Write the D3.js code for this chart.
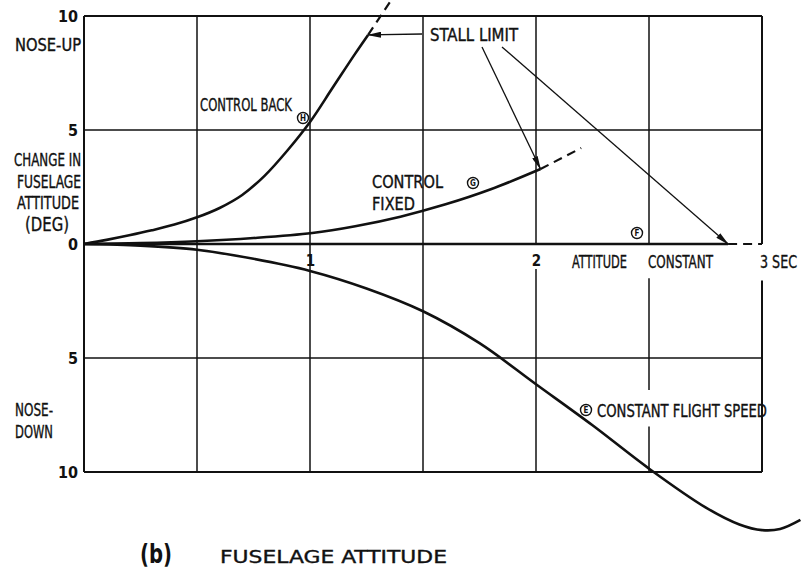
<!DOCTYPE html>
<html>
<head>
<meta charset="utf-8">
<script src="https://cdn.jsdelivr.net/npm/d3@7"></script>
<style>
  body { margin: 0; background: #fff; }
  svg text { font-family: "Liberation Sans Narrow", "DejaVu Sans Condensed", "Liberation Sans", sans-serif; fill: #111; }
</style>
</head>
<body>
<script>
// time in seconds, change in fuselage attitude in degrees (nose-up positive)
var gridTimes = [0, 0.5, 1, 1.5, 2, 2.5, 3];
var gridDegs = [10, 5, -5, -10];
var degTicks = [10, 5, 0, -5, -10];
var timeTicks = [1, 2];

// (H) control back
var backTime = [0, 0.1, 0.2, 0.3, 0.4, 0.5, 0.6, 0.7, 0.8, 0.9, 1.0, 1.1, 1.2, 1.257];
var backDeg  = [0, 0.18, 0.38, 0.6, 0.85, 1.17, 1.58, 2.15, 3.0, 4.1, 5.35, 6.85, 8.35, 9.17];
var backDashTime = [1.257, 1.36];
var backDashDeg  = [9.17, 10.7];

// (G) control fixed
var fixedTime = [0, 0.25, 0.5, 0.75, 1.01, 1.2, 1.4, 1.6, 1.8, 2.02];
var fixedDeg  = [0, 0.04, 0.12, 0.26, 0.48, 0.78, 1.2, 1.74, 2.4, 3.29];
var fixedDashTime = [2.02, 2.2];
var fixedDashDeg  = [3.29, 4.21];

// (F) attitude constant
var constTime = [0, 2.85];
var constDeg  = [0, 0];
var constDashTime = [2.85, 3.0];
var constDashDeg  = [0, 0];

// (E) constant flight speed
var speedTime = [0, 0.25, 0.5, 0.75, 1.0, 1.25, 1.5, 1.75, 2.0, 2.25, 2.5, 2.75,
                 2.9, 3.0, 3.08, 3.17];
var speedDeg  = [0, -0.07, -0.25, -0.65, -1.18, -1.95, -2.95, -4.35, -6.15, -7.95,
                 -9.85, -11.55, -12.3, -12.55, -12.5, -12.1];

var width = 810, height = 569;

var svg = d3.select("body").append("svg")
    .attr("width", width)
    .attr("height", height);

var x = d3.scaleLinear().domain([0, 3]).range([84, 762]);
var y = d3.scaleLinear().domain([-10, 10]).range([472, 16]);

function zip(a, b) { return a.map(function(v, i) { return [v, b[i]]; }); }

var line = d3.line()
    .x(function(d) { return x(d[0]); })
    .y(function(d) { return y(d[1]); })
    .curve(d3.curveCatmullRom);

svg.append("defs").append("marker")
    .attr("id", "arrow")
    .attr("viewBox", "0 0 14 6")
    .attr("refX", 13)
    .attr("refY", 3)
    .attr("markerWidth", 14)
    .attr("markerHeight", 6)
    .attr("markerUnits", "userSpaceOnUse")
    .attr("orient", "auto")
    .append("path")
    .attr("d", "M0,0 L14,3 L0,6 Z")
    .attr("fill", "#111");

var grid = svg.append("g").attr("stroke", "#111").attr("fill", "none");

// horizontal grid and frame
gridDegs.forEach(function(d) {
    grid.append("line")
        .attr("x1", x(0)).attr("x2", x(3))
        .attr("y1", y(d)).attr("y2", y(d))
        .attr("stroke-width", Math.abs(d) == 10 ? 2 : 1.5);
});

// vertical grid: upper half full, lower half with gaps for labels
var lowerGaps = { 2: [[0, -1.1]], 2.5: [[0, -1.5], [-6.4, -8.0]], 3: [[0, -1.6]] };
gridTimes.forEach(function(t) {
    var sw = (t == 0 || t == 3) ? 2 : 1.5;
    grid.append("line")
        .attr("x1", x(t)).attr("x2", x(t))
        .attr("y1", y(10)).attr("y2", y(0))
        .attr("stroke-width", sw);
    var segs = [[0, -10]];
    (lowerGaps[t] || []).forEach(function(g) {
        var next = [];
        segs.forEach(function(s) {
            if (g[0] <= s[0] && g[1] >= s[1]) {
                if (g[0] < s[0]) next.push([s[0], g[0]]);
                if (g[1] > s[1]) next.push([g[1], s[1]]);
            } else next.push(s);
        });
        segs = next;
    });
    segs.forEach(function(s) {
        grid.append("line")
            .attr("x1", x(t)).attr("x2", x(t))
            .attr("y1", y(s[0])).attr("y2", y(s[1]))
            .attr("stroke-width", sw);
    });
});

// curves
var curves = svg.append("g").attr("fill", "none").attr("stroke", "#111");
[[constTime, constDeg], [backTime, backDeg], [fixedTime, fixedDeg], [speedTime, speedDeg]]
    .forEach(function(c) {
        curves.append("path")
            .attr("d", line(zip(c[0], c[1])))
            .attr("stroke-width", 2.6);
    });
[[backDashTime, backDashDeg], [fixedDashTime, fixedDashDeg], [constDashTime, constDashDeg]]
    .forEach(function(c) {
        curves.append("path")
            .attr("d", line(zip(c[0], c[1])))
            .attr("stroke-width", 2.2)
            .attr("stroke-dasharray", "9,6");
    });

// axes labels
var yAxis = svg.append("g")
    .attr("transform", "translate(" + x(0) + ",0)")
    .call(d3.axisLeft(y).tickValues(degTicks).tickSize(0).tickPadding(6)
        .tickFormat(function(d) { return Math.abs(d); }));
yAxis.select(".domain").remove();
yAxis.selectAll("text").style("font-size", "16px").attr("font-weight", "bold");

var xAxis = svg.append("g")
    .attr("transform", "translate(0," + y(0) + ")")
    .call(d3.axisBottom(x).tickValues(timeTicks).tickSize(0).tickPadding(11)
        .tickFormat(d3.format("d")));
xAxis.select(".domain").remove();
xAxis.selectAll("text").style("font-size", "15px").attr("font-weight", "bold");

function label(txt, px, py, w, anchor, size) {
    var t = svg.append("text")
        .attr("x", px).attr("y", py)
        .attr("dy", "0.36em")
        .attr("text-anchor", anchor || "start")
        .style("font-size", (size || 17) + "px")
        .attr("stroke", "#111").attr("stroke-width", 0.35)
        .text(txt);
    if (w) t.attr("textLength", w).attr("lengthAdjust", "spacingAndGlyphs");
    return t;
}

label("NOSE-UP", 15, 45, 66);
label("CHANGE IN", 14, 160, 67);
label("FUSELAGE", 17, 182, 64);
label("ATTITUDE", 17, 203, 62);
label("(DEG)", 25, 224, 44, "start", 19);
label("NOSE-", 15, 410, 38);
label("DOWN", 15, 432, 38);

label("ATTITUDE", 572, 262, 55);
label("CONSTANT", 648, 262, 65);
label("3 SEC", 760, 262, 37);

label("CONTROL BACK", 200, 105, 92);
label("CONTROL", 372, 182, 71);
label("FIXED", 372, 204, 43);
label("STALL LIMIT", 430, 35, 88);
label("CONSTANT  FLIGHT  SPEED", 597, 411, 170);

svg.append("text")
    .attr("x", 140).attr("y", 554).attr("dy", "0.36em")
    .style("font-size", "26px").attr("font-weight", "bold")
    .attr("textLength", 32).attr("lengthAdjust", "spacingAndGlyphs")
    .text("(b)");
label("FUSELAGE  ATTITUDE", 220, 557, 227, "start", 18);

function circled(letter, px, py) {
    svg.append("circle")
        .attr("cx", px).attr("cy", py).attr("r", 5.5)
        .attr("fill", "#fff").attr("stroke", "#111").attr("stroke-width", 1.4);
    svg.append("text")
        .attr("x", px).attr("y", py).attr("dy", "0.35em")
        .attr("text-anchor", "middle")
        .style("font-size", "8px").attr("font-weight", "bold")
        .text(letter);
}
circled("H", 303, 118);
circled("G", 473, 183);
circled("F", 637, 233);
circled("E", 586, 410);

// stall limit pointers
var ann = svg.append("g").attr("stroke", "#111").attr("stroke-width", 1.3);
var stallPts = [
    [422, 34, backTime[backTime.length - 1], backDeg[backDeg.length - 1]],
    [482, 47, fixedTime[fixedTime.length - 1], fixedDeg[fixedDeg.length - 1]],
    [502, 47, constTime[constTime.length - 1], constDeg[constDeg.length - 1]]
];
stallPts.forEach(function(p) {
    ann.append("line")
        .attr("x1", p[0]).attr("y1", p[1])
        .attr("x2", x(p[2])).attr("y2", y(p[3]))
        .attr("marker-end", "url(#arrow)");
});
</script>
</body>
</html>
